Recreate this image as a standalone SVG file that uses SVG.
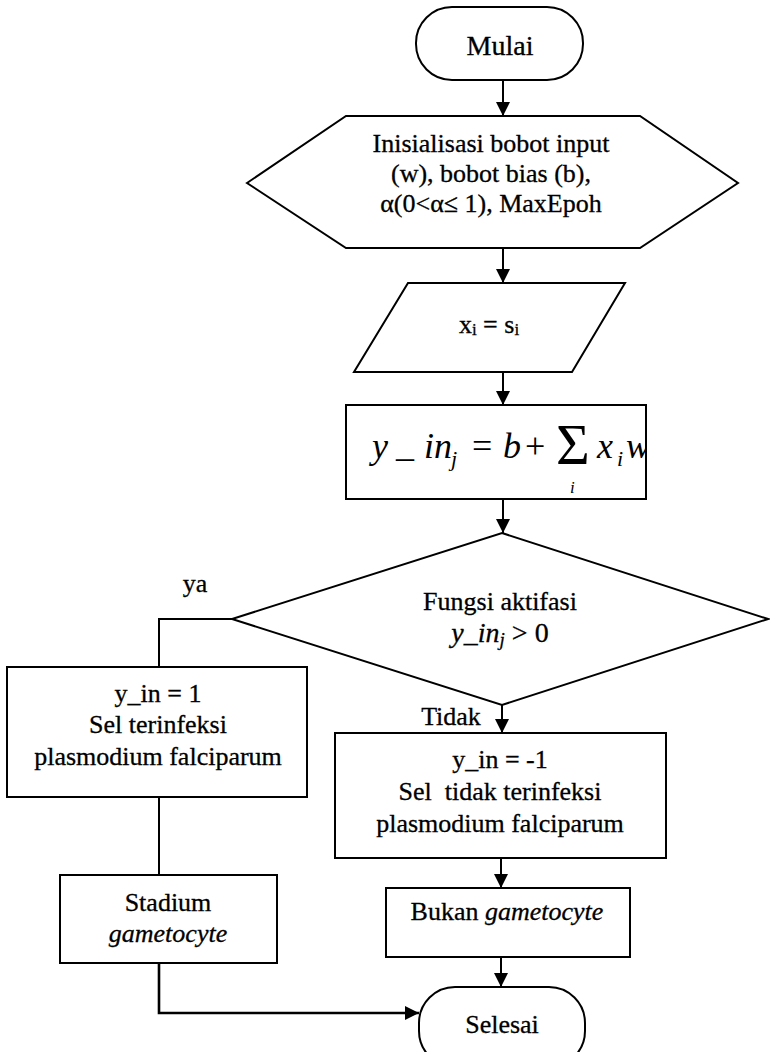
<svg xmlns="http://www.w3.org/2000/svg" width="770" height="1052" viewBox="0 0 770 1052" font-family="'Liberation Serif', 'Times New Roman', 'DejaVu Serif', 'Noto Serif', serif">
  <style>
    .shape { fill: #ffffff; stroke: #000000; stroke-width: 2; }
    .line { fill: none; stroke: #000000; stroke-width: 2; }
    .thick { fill: none; stroke: #000000; stroke-width: 2.6; }
    .t { font-family: 'Liberation Serif', 'Times New Roman', 'DejaVu Serif', 'Noto Serif', serif; font-size: 26px; fill: #000000; stroke: #000000; stroke-width: 0.3; text-anchor: middle; }
    .it { font-style: italic; }
    .eq { font-family: 'Liberation Serif', 'Times New Roman', 'DejaVu Serif', 'Noto Serif', serif; font-style: italic; font-size: 36px; fill: #000000; }
    .eq-op { font-style: normal; }
    .eq-sub { font-size: 22px; }
    .eq-low { font-size: 17px; font-style: italic; }
    .eq-sum { font-style: normal; font-size: 58px; }
  </style>
  <defs>
    <marker id="arrow" viewBox="0 0 14 14" refX="14" refY="7" markerWidth="14" markerHeight="14" markerUnits="userSpaceOnUse" orient="auto">
      <path d="M0,0 L14,7 L0,14 Z" fill="#000000"/>
    </marker>
    <clipPath id="eqclip">
      <rect x="346" y="405" width="300" height="94"/>
    </clipPath>
  </defs>

  <rect x="0" y="0" width="770" height="1052" fill="#ffffff"/>

  <!-- connectors -->
  <g id="connectors">
    <line class="line" x1="503" y1="80" x2="503" y2="116" marker-end="url(#arrow)"/>
    <line class="line" x1="503" y1="248" x2="503" y2="283" marker-end="url(#arrow)"/>
    <line class="line" x1="503" y1="372" x2="503" y2="405" marker-end="url(#arrow)"/>
    <line class="line" x1="503" y1="499" x2="503" y2="533" marker-end="url(#arrow)"/>
    <polyline class="line" points="232,619 159,619 159,667"/>
    <line class="line" x1="502" y1="705" x2="502" y2="733" marker-end="url(#arrow)"/>
    <line class="line" x1="159" y1="797" x2="159" y2="875"/>
    <line class="line" x1="501" y1="858" x2="501" y2="888" marker-end="url(#arrow)"/>
    <line class="line" x1="501" y1="957" x2="501" y2="987" marker-end="url(#arrow)"/>
    <polyline class="thick" points="159,963 159,1013 419,1013" marker-end="url(#arrow)"/>
    <text class="t" x="195" y="592">ya</text>
    <text class="t" x="451" y="725">Tidak</text>
  </g>

  <!-- start terminal -->
  <g id="mulai">
    <rect class="shape" x="416" y="7" width="167" height="73" rx="36" ry="36"/>
    <text class="t" x="500" y="55" style="font-size:28px">Mulai</text>
  </g>

  <!-- initialisation (preparation hexagon) -->
  <g id="inisialisasi">
    <polygon class="shape" points="247,183 346,116 640,116 738,183 640,248 346,248"/>
    <text class="t" x="491" y="152">Inisialisasi bobot input</text>
    <text class="t" x="491" y="182">(w), bobot bias (b),</text>
    <text class="t" x="491" y="212">α(0&lt;α≤ 1), MaxEpoh</text>
  </g>

  <!-- input parallelogram -->
  <g id="input">
    <polygon class="shape" points="408,283 625,283 572,372 354,372"/>
    <text class="t" x="489" y="333">x<tspan font-size="17" dy="2">i</tspan><tspan dy="-2"> = s</tspan><tspan font-size="17" dy="2">i</tspan></text>
  </g>

  <!-- net input computation -->
  <g id="net-input">
    <rect class="shape" x="346" y="405" width="300" height="94"/>
    <g clip-path="url(#eqclip)">
      <text class="eq" x="372" y="458">y</text>
      <text class="eq" x="396" y="456">_</text>
      <text class="eq" x="424" y="458">in</text>
      <text class="eq eq-sub" x="451" y="466">j</text>
      <text class="eq eq-op" x="472" y="458">=</text>
      <text class="eq" x="503" y="458">b</text>
      <text class="eq eq-op" x="525" y="458">+</text>
      <text class="eq eq-sum" x="556" y="464">Σ</text>
      <text class="eq eq-low" x="570" y="493">i</text>
      <text class="eq" x="597" y="458">x</text>
      <text class="eq eq-sub" x="617" y="466">i</text>
      <text class="eq" x="626" y="458">w</text>
    </g>
  </g>

  <!-- activation decision -->
  <g id="aktifasi">
    <polygon class="shape" points="502,533 768,619 502,705 232,619"/>
    <text class="t" x="500" y="610">Fungsi aktifasi</text>
    <text class="t" x="500" y="642" style="font-size:28px"><tspan class="it">y_in</tspan><tspan class="it" font-size="19" dy="4">j</tspan><tspan dy="-4"> &gt; 0</tspan></text>
  </g>

  <!-- infected branch -->
  <g id="terinfeksi">
    <rect class="shape" x="7" y="667" width="300" height="130"/>
    <text class="t" x="158" y="702">y_in = 1</text>
    <text class="t" x="158" y="733">Sel terinfeksi</text>
    <text class="t" x="158" y="765">plasmodium falciparum</text>
  </g>

  <g id="stadium">
    <rect class="shape" x="60" y="875" width="217" height="88"/>
    <text class="t" x="168" y="911">Stadium</text>
    <text class="t it" x="168" y="942">gametocyte</text>
  </g>

  <!-- not infected branch -->
  <g id="tidak-terinfeksi">
    <rect class="shape" x="335" y="733" width="331" height="125"/>
    <text class="t" x="500" y="768">y_in = -1</text>
    <text class="t" x="500" y="800" xml:space="preserve">Sel  tidak terinfeksi</text>
    <text class="t" x="500" y="832">plasmodium falciparum</text>
  </g>

  <g id="bukan">
    <rect class="shape" x="386" y="888" width="244" height="69"/>
    <text class="t" x="507" y="920">Bukan <tspan class="it">gametocyte</tspan></text>
  </g>

  <!-- end terminal -->
  <g id="selesai">
    <rect class="shape" x="419" y="987" width="166" height="80" rx="36" ry="36"/>
    <text class="t" x="502" y="1033">Selesai</text>
  </g>
</svg>
